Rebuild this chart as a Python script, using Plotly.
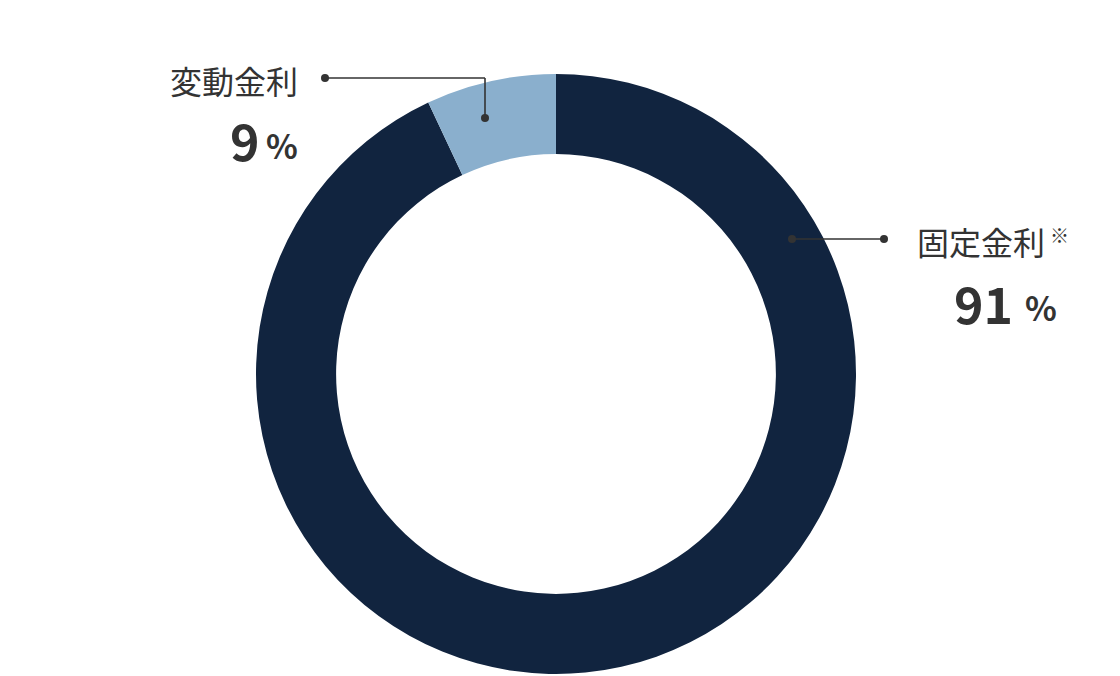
import plotly.graph_objects as go

W, H = 1120, 676
# page body margin pushes the figure 8px right and down
OFF = 8

# slice shares as drawn, and the percentages printed beside them
labels = ["固定金利", "変動金利"]
shares = [93, 7]
label_pct = [91, 9]
colors = ["#11243f", "#8aafcd"]

FONT = "Noto Sans CJK JP, Noto Sans, sans-serif"
INK = "#333333"


def px(x, y):
    # screen pixel position -> paper coords
    return (x - OFF) / W, 1 - (y - OFF) / H


dx0, _ = px(256, 0)
dx1, _ = px(856, 0)
_, dy0 = px(0, 674)
_, dy1 = px(0, 74)

fig = go.Figure(go.Pie(
    labels=labels,
    values=shares,
    hole=0.733,
    sort=False,
    direction="clockwise",
    rotation=0,
    marker=dict(colors=colors, line=dict(width=0)),
    textinfo="none",
    hoverinfo="label",
    domain=dict(x=[dx0, dx1], y=[dy0, dy1]),
))

shapes = []
# leader for 変動金利: dot in slice, up, then left; leader for 固定金利: straight right
for (x0, y0, x1, y1) in [(485, 118, 485, 78), (485, 78, 325, 78), (792, 239, 884, 239)]:
    a0, b0 = px(x0, y0)
    a1, b1 = px(x1, y1)
    shapes.append(dict(type="line", xref="paper", yref="paper",
                       x0=a0, y0=b0, x1=a1, y1=b1,
                       line=dict(color=INK, width=1.6)))
for (cx, cy) in [(485, 118), (325, 78), (792, 239), (884, 239)]:
    a0, b0 = px(cx - 4, cy - 4)
    a1, b1 = px(cx + 4, cy + 4)
    shapes.append(dict(type="circle", xref="paper", yref="paper",
                       x0=a0, y0=b0, x1=a1, y1=b1,
                       fillcolor=INK, line=dict(width=0)))


def note(text, x, y, size, anchor, bold=False):
    ax, ay = px(x, y)
    return dict(text=f"<b>{text}</b>" if bold else text,
                x=ax, y=ay, xref="paper", yref="paper",
                xanchor=anchor, yanchor="middle", showarrow=False,
                font=dict(family=FONT, size=size, color=INK))


annotations = [
    note(labels[1], 300, 80, 32, "right"),
    note(str(label_pct[1]), 262, 139, 50, "right", bold=True),
    note("%", 300, 145, 33, "right", bold=True),
    note(labels[0], 915, 241, 32, "left"),
    note("※", 1048, 234, 19, "left"),
    note(str(label_pct[0]), 1015, 302, 50, "right", bold=True),
    note("%", 1023, 307, 33, "left", bold=True),
]

fig.update_layout(
    width=W, height=H,
    margin=dict(l=0, r=0, t=0, b=0),
    paper_bgcolor="white",
    plot_bgcolor="white",
    showlegend=False,
    shapes=shapes,
    annotations=annotations,
)

fig.write_html("out.html")
